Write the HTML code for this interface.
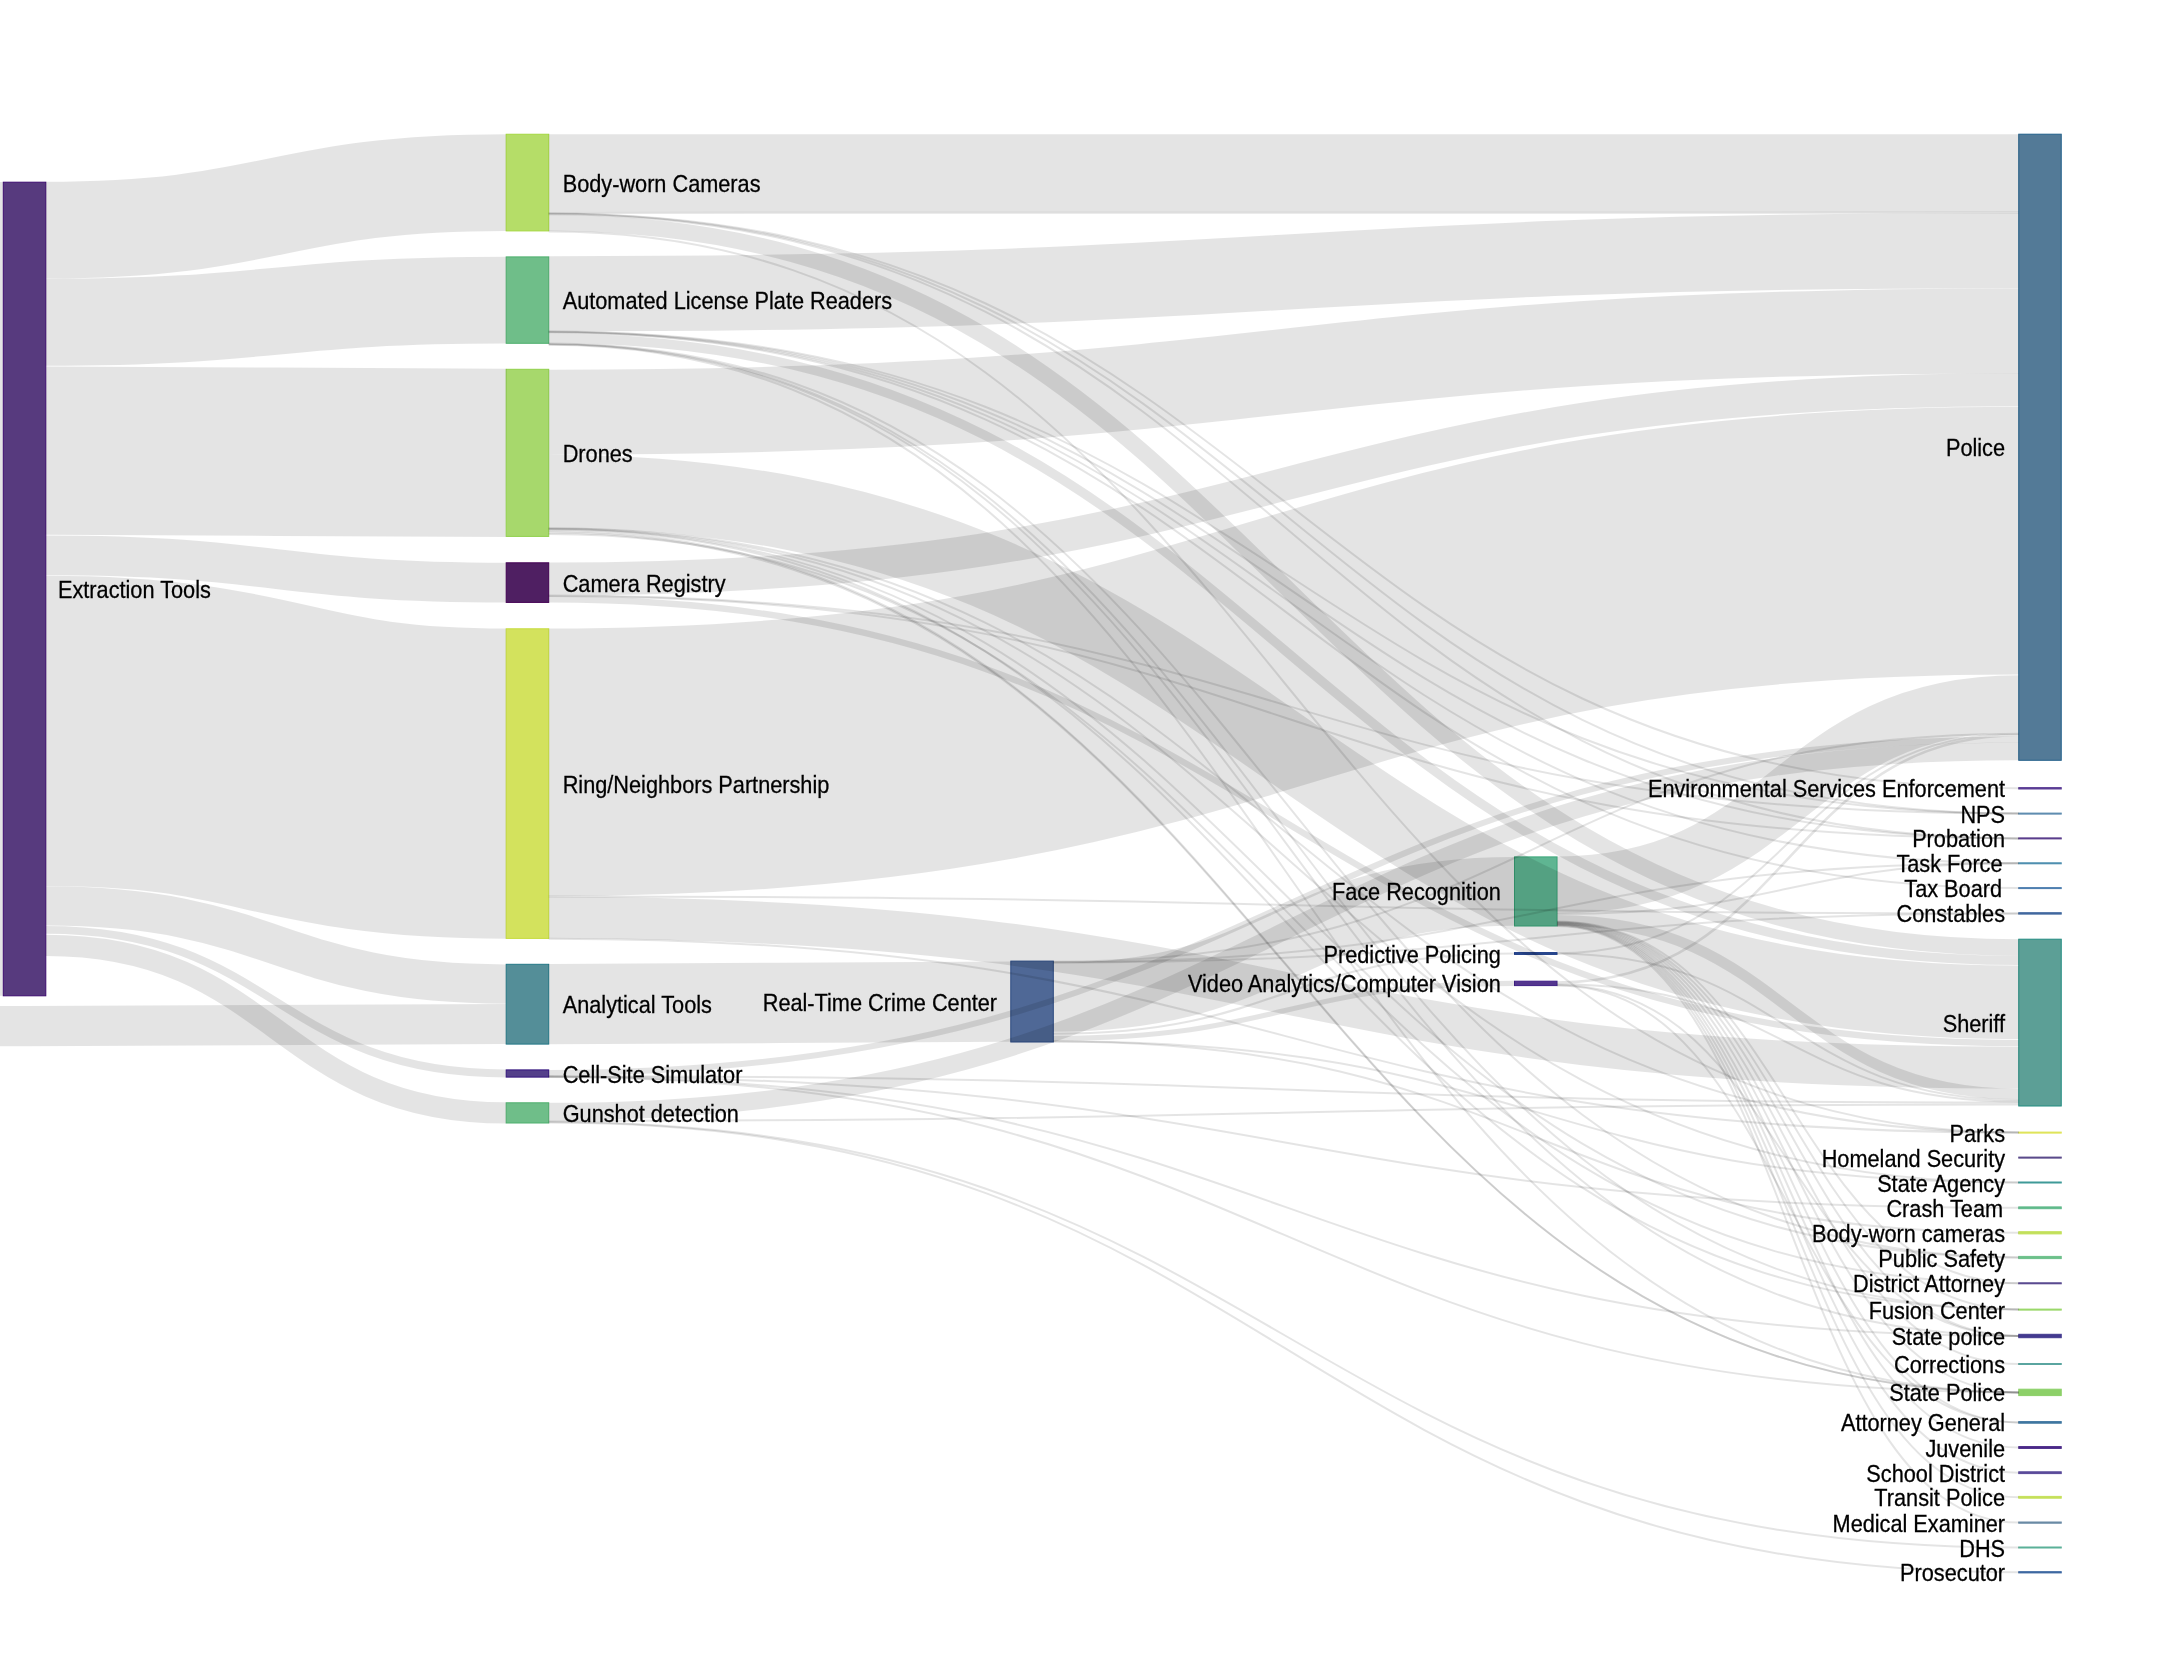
<!DOCTYPE html><html><head><meta charset="utf-8"><style>html,body{margin:0;padding:0;background:#fff;width:2160px;height:1656px;overflow:hidden}svg{display:block}.lbl{will-change:transform}text{font-family:"Liberation Sans",sans-serif;font-size:24.6px;fill:#000;stroke:#000;stroke-width:0.3px}</style></head><body>
<svg xmlns="http://www.w3.org/2000/svg" width="2160" height="1656" viewBox="0 0 2160 1656">
<rect width="100%" height="100%" fill="#fff"/>
<g fill="#000" fill-opacity="0.105">
<rect x="0" y="182.0" width="3.30" height="813.80"/>
</g>
<rect x="3.30" y="182.20" width="42.5" height="813.60" fill="#573a7e" stroke="#3d0c70" stroke-width="1"/>
<rect x="506.20" y="134.25" width="42.5" height="96.65" fill="#b5dd68" stroke="#a5d840" stroke-width="1"/>
<rect x="506.20" y="256.90" width="42.5" height="86.40" fill="#6fbe89" stroke="#4fb06e" stroke-width="1"/>
<rect x="506.20" y="369.30" width="42.5" height="167.10" fill="#a7d86c" stroke="#90d04c" stroke-width="1"/>
<rect x="506.20" y="562.80" width="42.5" height="39.60" fill="#4f1f62" stroke="#440154" stroke-width="1"/>
<rect x="506.20" y="628.80" width="42.5" height="309.60" fill="#d3e25d" stroke="#c6dc3e" stroke-width="1"/>
<rect x="506.20" y="964.30" width="42.5" height="79.80" fill="#548e98" stroke="#247887" stroke-width="1"/>
<rect x="506.20" y="1069.90" width="42.5" height="7.20" fill="#54408a" stroke="#33137e" stroke-width="1"/>
<rect x="506.20" y="1102.80" width="42.5" height="20.20" fill="#6fbe89" stroke="#4fb06e" stroke-width="1"/>
<rect x="1010.80" y="961.10" width="42.5" height="80.90" fill="#4f6896" stroke="#2c4d88" stroke-width="1"/>
<rect x="1514.50" y="856.90" width="42.5" height="69.10" fill="#5fb592" stroke="#3aa77a" stroke-width="1"/>
<rect x="1514.50" y="952.60" width="42.5" height="1.80" fill="#2a4a8e" stroke="#1b3a86" stroke-width="1"/>
<rect x="1514.50" y="981.20" width="42.5" height="4.40" fill="#54368e" stroke="#3f1f86" stroke-width="1"/>
<rect x="2018.75" y="134.20" width="42.5" height="626.10" fill="#537a97" stroke="#22608a" stroke-width="1"/>
<rect x="2018.75" y="787.60" width="42.5" height="1.40" fill="#5b3c95" stroke="#5b3c95" stroke-width="1"/>
<rect x="2018.75" y="813.10" width="42.5" height="1.00" fill="#5f8db0" stroke="#5f8db0" stroke-width="1"/>
<rect x="2018.75" y="837.90" width="42.5" height="1.00" fill="#5a3d8c" stroke="#5a3d8c" stroke-width="1"/>
<rect x="2018.75" y="862.80" width="42.5" height="1.00" fill="#4f8fb0" stroke="#4f8fb0" stroke-width="1"/>
<rect x="2018.75" y="887.60" width="42.5" height="1.00" fill="#4f7fb0" stroke="#4f7fb0" stroke-width="1"/>
<rect x="2018.75" y="912.70" width="42.5" height="1.40" fill="#41689f" stroke="#41689f" stroke-width="1"/>
<rect x="2018.75" y="939.20" width="42.5" height="166.80" fill="#5c9f96" stroke="#218c80" stroke-width="1"/>
<rect x="2018.75" y="1132.10" width="42.5" height="1.00" fill="#dfe45a" stroke="#dfe45a" stroke-width="1"/>
<rect x="2018.75" y="1157.10" width="42.5" height="1.00" fill="#5a4a8a" stroke="#5a4a8a" stroke-width="1"/>
<rect x="2018.75" y="1182.00" width="42.5" height="1.00" fill="#3f9a98" stroke="#3f9a98" stroke-width="1"/>
<rect x="2018.75" y="1206.90" width="42.5" height="1.80" fill="#5fb98a" stroke="#5fb98a" stroke-width="1"/>
<rect x="2018.75" y="1231.70" width="42.5" height="2.20" fill="#c2e05a" stroke="#c2e05a" stroke-width="1"/>
<rect x="2018.75" y="1256.40" width="42.5" height="2.20" fill="#6cc08a" stroke="#6cc08a" stroke-width="1"/>
<rect x="2018.75" y="1282.80" width="42.5" height="1.00" fill="#5a4a90" stroke="#5a4a90" stroke-width="1"/>
<rect x="2018.75" y="1309.10" width="42.5" height="1.00" fill="#9ad86a" stroke="#9ad86a" stroke-width="1"/>
<rect x="2018.75" y="1334.30" width="42.5" height="3.40" fill="#433a8f" stroke="#433a8f" stroke-width="1"/>
<rect x="2018.75" y="1363.50" width="42.5" height="1.00" fill="#5aa5a0" stroke="#5aa5a0" stroke-width="1"/>
<rect x="2018.75" y="1389.20" width="42.5" height="6.40" fill="#8cd068" stroke="#8cd068" stroke-width="1"/>
<rect x="2018.75" y="1421.60" width="42.5" height="1.60" fill="#3f77a0" stroke="#3f77a0" stroke-width="1"/>
<rect x="2018.75" y="1446.60" width="42.5" height="1.80" fill="#4a2888" stroke="#4a2888" stroke-width="1"/>
<rect x="2018.75" y="1471.80" width="42.5" height="1.80" fill="#5a4a9a" stroke="#5a4a9a" stroke-width="1"/>
<rect x="2018.75" y="1496.40" width="42.5" height="1.80" fill="#c5e05a" stroke="#c5e05a" stroke-width="1"/>
<rect x="2018.75" y="1522.00" width="42.5" height="1.20" fill="#6a8aa5" stroke="#6a8aa5" stroke-width="1"/>
<rect x="2018.75" y="1547.00" width="42.5" height="1.00" fill="#5ab098" stroke="#5ab098" stroke-width="1"/>
<rect x="2018.75" y="1571.70" width="42.5" height="1.20" fill="#3a65a0" stroke="#3a65a0" stroke-width="1"/>
<g fill="none" stroke="#000" stroke-opacity="0.105">
<path d="M45.80,230.15C276.00,230.15 276.00,182.57 506.20,182.57" stroke-width="96.67"/>
<path d="M45.80,322.20C276.00,322.20 276.00,300.10 506.20,300.10" stroke-width="86.90"/>
<path d="M45.80,450.70C276.00,450.70 276.00,452.85 506.20,452.85" stroke-width="168.35"/>
<path d="M45.80,555.45C276.00,555.45 276.00,582.60 506.20,582.60" stroke-width="39.75"/>
<path d="M45.80,730.90C276.00,730.90 276.00,783.60 506.20,783.60" stroke-width="310.30"/>
<path d="M45.80,905.95C276.00,905.95 276.00,984.05 506.20,984.05" stroke-width="39.30"/>
<path d="M45.80,929.85C276.00,929.85 276.00,1073.50 506.20,1073.50" stroke-width="7.95"/>
<path d="M45.80,945.30C276.00,945.30 276.00,1112.90 506.20,1112.90" stroke-width="21.20"/>
<path d="M-458.00,1028.20C24.10,1028.20 24.10,1023.95 506.20,1023.95" stroke-width="40.15"/>
<path d="M548.70,173.22C1283.72,173.22 1283.72,173.30 2018.75,173.30" stroke-width="78.08"/>
<path d="M548.70,222.90C1283.72,222.90 1283.72,947.50 2018.75,947.50" stroke-width="16.40"/>
<path d="M548.70,293.85C1283.72,293.85 1283.72,250.60 2018.75,250.60" stroke-width="75.15"/>
<path d="M548.70,338.25C1283.72,338.25 1283.72,960.45 2018.75,960.45" stroke-width="9.30"/>
<path d="M548.70,412.15C1283.72,412.15 1283.72,330.90 2018.75,330.90" stroke-width="84.95"/>
<path d="M548.70,491.50C1283.72,491.50 1283.72,1002.35 2018.75,1002.35" stroke-width="73.75"/>
<path d="M548.70,579.00C1283.72,579.00 1283.72,389.75 2018.75,389.75" stroke-width="32.95"/>
<path d="M548.70,599.30C1283.72,599.30 1283.72,1043.10 2018.75,1043.10" stroke-width="6.40"/>
<path d="M548.70,762.30C1283.72,762.30 1283.72,540.65 2018.75,540.65" stroke-width="267.65"/>
<path d="M548.70,917.70C1283.72,917.70 1283.72,1067.60 2018.75,1067.60" stroke-width="41.80"/>
<path d="M548.70,1004.20C779.75,1004.20 779.75,1001.55 1010.80,1001.55" stroke-width="80.35"/>
<path d="M1053.30,997.25C1283.90,997.25 1283.90,891.45 1514.50,891.45" stroke-width="68.80"/>
<path d="M1053.30,1033.75C1283.90,1033.75 1283.90,953.50 1514.50,953.50" stroke-width="2.15"/>
<path d="M1053.30,1038.25C1283.90,1038.25 1283.90,983.40 1514.50,983.40" stroke-width="5.15"/>
<path d="M1557.00,884.95C1787.88,884.95 1787.88,703.90 2018.75,703.90" stroke-width="57.15"/>
<path d="M1557.00,920.25C1787.88,920.25 1787.88,1094.00 2018.75,1094.00" stroke-width="10.55"/>
<path d="M1557.00,982.50C1787.88,982.50 1787.88,735.30 2018.75,735.30" stroke-width="2.60"/>
<path d="M548.70,1072.95C1283.72,1072.95 1283.72,739.60 2018.75,739.60" stroke-width="6.05"/>
<path d="M548.70,1111.60C1283.72,1111.60 1283.72,751.45 2018.75,751.45" stroke-width="17.65"/>
</g>
<g fill="none" stroke="#000" stroke-opacity="0.105">
<path d="M548.70,212.90C1283.72,212.90 1283.72,212.60 2018.75,212.60" stroke-width="2.0"/>
<path d="M548.70,213.40C1283.72,213.40 1283.72,788.30 2018.75,788.30" stroke-width="2.0"/>
<path d="M548.70,213.80C1283.72,213.80 1283.72,813.60 2018.75,813.60" stroke-width="2.0"/>
<path d="M548.70,214.20C1283.72,214.20 1283.72,838.40 2018.75,838.40" stroke-width="2.0"/>
<path d="M548.70,231.40C1283.72,231.40 1283.72,1132.60 2018.75,1132.60" stroke-width="2.0"/>
<path d="M548.70,331.40C1283.72,331.40 1283.72,813.60 2018.75,813.60" stroke-width="2.0"/>
<path d="M548.70,331.80C1283.72,331.80 1283.72,838.40 2018.75,838.40" stroke-width="2.0"/>
<path d="M548.70,332.20C1283.72,332.20 1283.72,863.30 2018.75,863.30" stroke-width="2.0"/>
<path d="M548.70,332.60C1283.72,332.60 1283.72,888.10 2018.75,888.10" stroke-width="2.0"/>
<path d="M548.70,343.50C1283.72,343.50 1283.72,1257.50 2018.75,1257.50" stroke-width="2.0"/>
<path d="M548.70,343.90C1283.72,343.90 1283.72,1309.60 2018.75,1309.60" stroke-width="2.0"/>
<path d="M548.70,344.30C1283.72,344.30 1283.72,1336.00 2018.75,1336.00" stroke-width="2.0"/>
<path d="M548.70,344.70C1283.72,344.70 1283.72,1392.40 2018.75,1392.40" stroke-width="2.0"/>
<path d="M548.70,528.30C1283.72,528.30 1283.72,1132.60 2018.75,1132.60" stroke-width="2.0"/>
<path d="M548.70,528.70C1283.72,528.70 1283.72,1182.50 2018.75,1182.50" stroke-width="2.0"/>
<path d="M548.70,529.10C1283.72,529.10 1283.72,1257.50 2018.75,1257.50" stroke-width="2.0"/>
<path d="M548.70,529.50C1283.72,529.50 1283.72,1309.60 2018.75,1309.60" stroke-width="2.0"/>
<path d="M548.70,531.00C1283.72,531.00 1283.72,1392.40 2018.75,1392.40" stroke-width="2.0"/>
<path d="M548.70,532.50C1283.72,532.50 1283.72,1392.40 2018.75,1392.40" stroke-width="2.0"/>
<path d="M548.70,534.00C1283.72,534.00 1283.72,1283.30 2018.75,1283.30" stroke-width="2.0"/>
<path d="M548.70,595.60C1283.72,595.60 1283.72,813.60 2018.75,813.60" stroke-width="2.0"/>
<path d="M548.70,596.00C1283.72,596.00 1283.72,838.40 2018.75,838.40" stroke-width="2.0"/>
<path d="M548.70,896.40C1283.72,896.40 1283.72,913.40 2018.75,913.40" stroke-width="2.0"/>
<path d="M548.70,938.70C1283.72,938.70 1283.72,1132.60 2018.75,1132.60" stroke-width="2.0"/>
<path d="M1053.30,961.80C1536.03,961.80 1536.03,733.80 2018.75,733.80" stroke-width="2.0"/>
<path d="M1053.30,962.20C1536.03,962.20 1536.03,863.30 2018.75,863.30" stroke-width="2.0"/>
<path d="M1053.30,962.50C1536.03,962.50 1536.03,913.40 2018.75,913.40" stroke-width="2.0"/>
<path d="M1053.30,1041.20C1536.03,1041.20 1536.03,1182.50 2018.75,1182.50" stroke-width="2.0"/>
<path d="M1053.30,1041.60C1536.03,1041.60 1536.03,1232.80 2018.75,1232.80" stroke-width="2.0"/>
<path d="M1557.00,913.90C1787.88,913.90 1787.88,863.30 2018.75,863.30" stroke-width="2.0"/>
<path d="M1557.00,921.60C1787.88,921.60 1787.88,1283.30 2018.75,1283.30" stroke-width="2.0"/>
<path d="M1557.00,922.08C1787.88,922.08 1787.88,1309.60 2018.75,1309.60" stroke-width="2.0"/>
<path d="M1557.00,922.56C1787.88,922.56 1787.88,1336.00 2018.75,1336.00" stroke-width="2.0"/>
<path d="M1557.00,923.04C1787.88,923.04 1787.88,1364.00 2018.75,1364.00" stroke-width="2.0"/>
<path d="M1557.00,923.52C1787.88,923.52 1787.88,1392.40 2018.75,1392.40" stroke-width="2.0"/>
<path d="M1557.00,924.00C1787.88,924.00 1787.88,1422.40 2018.75,1422.40" stroke-width="2.0"/>
<path d="M1557.00,924.48C1787.88,924.48 1787.88,1447.50 2018.75,1447.50" stroke-width="2.0"/>
<path d="M1557.00,924.96C1787.88,924.96 1787.88,1472.70 2018.75,1472.70" stroke-width="2.0"/>
<path d="M1557.00,925.44C1787.88,925.44 1787.88,1497.30 2018.75,1497.30" stroke-width="2.0"/>
<path d="M1557.00,925.92C1787.88,925.92 1787.88,1522.60 2018.75,1522.60" stroke-width="2.0"/>
<path d="M1557.00,953.20C1787.88,953.20 1787.88,733.40 2018.75,733.40" stroke-width="2.0"/>
<path d="M1557.00,953.80C1787.88,953.80 1787.88,1100.00 2018.75,1100.00" stroke-width="2.0"/>
<path d="M1557.00,984.30C1787.88,984.30 1787.88,1101.50 2018.75,1101.50" stroke-width="2.0"/>
<path d="M1557.00,984.90C1787.88,984.90 1787.88,1336.00 2018.75,1336.00" stroke-width="2.0"/>
<path d="M1557.00,985.40C1787.88,985.40 1787.88,1422.40 2018.75,1422.40" stroke-width="2.0"/>
<path d="M548.70,1076.20C1283.72,1076.20 1283.72,1102.60 2018.75,1102.60" stroke-width="2.0"/>
<path d="M548.70,1076.50C1283.72,1076.50 1283.72,1207.80 2018.75,1207.80" stroke-width="2.0"/>
<path d="M548.70,1076.80C1283.72,1076.80 1283.72,1336.00 2018.75,1336.00" stroke-width="2.0"/>
<path d="M548.70,1077.00C1283.72,1077.00 1283.72,1392.40 2018.75,1392.40" stroke-width="2.0"/>
<path d="M548.70,1120.90C1283.72,1120.90 1283.72,1104.50 2018.75,1104.50" stroke-width="2.0"/>
<path d="M548.70,1122.00C1283.72,1122.00 1283.72,1547.50 2018.75,1547.50" stroke-width="2.0"/>
<path d="M548.70,1122.60C1283.72,1122.60 1283.72,1572.30 2018.75,1572.30" stroke-width="2.0"/>
</g>
<g class="lbl">
<text transform="translate(58.00,598.00) scale(0.883,1)">Extraction Tools</text>
<text transform="translate(562.70,191.57) scale(0.883,1)">Body-worn Cameras</text>
<text transform="translate(562.70,309.10) scale(0.883,1)">Automated License Plate Readers</text>
<text transform="translate(562.70,461.85) scale(0.883,1)">Drones</text>
<text transform="translate(562.70,591.60) scale(0.883,1)">Camera Registry</text>
<text transform="translate(562.70,792.60) scale(0.883,1)">Ring/Neighbors Partnership</text>
<text transform="translate(562.70,1013.20) scale(0.883,1)">Analytical Tools</text>
<text transform="translate(562.70,1082.50) scale(0.883,1)">Cell-Site Simulator</text>
<text transform="translate(562.70,1121.90) scale(0.883,1)">Gunshot detection</text>
<text transform="translate(997.10,1010.55) scale(0.883,1)" text-anchor="end">Real-Time Crime Center</text>
<text transform="translate(1500.80,900.45) scale(0.883,1)" text-anchor="end">Face Recognition</text>
<text transform="translate(1500.80,962.50) scale(0.883,1)" text-anchor="end">Predictive Policing</text>
<text transform="translate(1500.80,992.40) scale(0.883,1)" text-anchor="end">Video Analytics/Computer Vision</text>
<text transform="translate(2005.05,456.25) scale(0.883,1)" text-anchor="end">Police</text>
<text transform="translate(2005.05,797.30) scale(0.883,1)" text-anchor="end">Environmental Services Enforcement</text>
<text transform="translate(2005.05,822.60) scale(0.883,1)" text-anchor="end">NPS</text>
<text transform="translate(2005.05,847.40) scale(0.883,1)" text-anchor="end">Probation</text>
<text transform="translate(2002.55,872.30) scale(0.883,1)" text-anchor="end">Task Force</text>
<text transform="translate(2002.05,897.10) scale(0.883,1)" text-anchor="end">Tax Board</text>
<text transform="translate(2005.05,922.40) scale(0.883,1)" text-anchor="end">Constables</text>
<text transform="translate(2005.05,1031.60) scale(0.883,1)" text-anchor="end">Sheriff</text>
<text transform="translate(2005.05,1141.60) scale(0.883,1)" text-anchor="end">Parks</text>
<text transform="translate(2005.05,1166.60) scale(0.883,1)" text-anchor="end">Homeland Security</text>
<text transform="translate(2005.05,1191.50) scale(0.883,1)" text-anchor="end">State Agency</text>
<text transform="translate(2003.05,1216.80) scale(0.883,1)" text-anchor="end">Crash Team</text>
<text transform="translate(2005.05,1241.80) scale(0.883,1)" text-anchor="end">Body-worn cameras</text>
<text transform="translate(2005.05,1266.50) scale(0.883,1)" text-anchor="end">Public Safety</text>
<text transform="translate(2005.05,1292.30) scale(0.883,1)" text-anchor="end">District Attorney</text>
<text transform="translate(2005.05,1318.60) scale(0.883,1)" text-anchor="end">Fusion Center</text>
<text transform="translate(2005.05,1345.00) scale(0.883,1)" text-anchor="end">State police</text>
<text transform="translate(2005.05,1373.00) scale(0.883,1)" text-anchor="end">Corrections</text>
<text transform="translate(2005.05,1401.40) scale(0.883,1)" text-anchor="end">State Police</text>
<text transform="translate(2005.05,1431.40) scale(0.883,1)" text-anchor="end">Attorney General</text>
<text transform="translate(2005.05,1456.50) scale(0.883,1)" text-anchor="end">Juvenile</text>
<text transform="translate(2005.05,1481.70) scale(0.883,1)" text-anchor="end">School District</text>
<text transform="translate(2005.05,1506.30) scale(0.883,1)" text-anchor="end">Transit Police</text>
<text transform="translate(2005.05,1531.60) scale(0.883,1)" text-anchor="end">Medical Examiner</text>
<text transform="translate(2005.05,1556.50) scale(0.883,1)" text-anchor="end">DHS</text>
<text transform="translate(2005.05,1581.30) scale(0.883,1)" text-anchor="end">Prosecutor</text>
</g>
</svg></body></html>
